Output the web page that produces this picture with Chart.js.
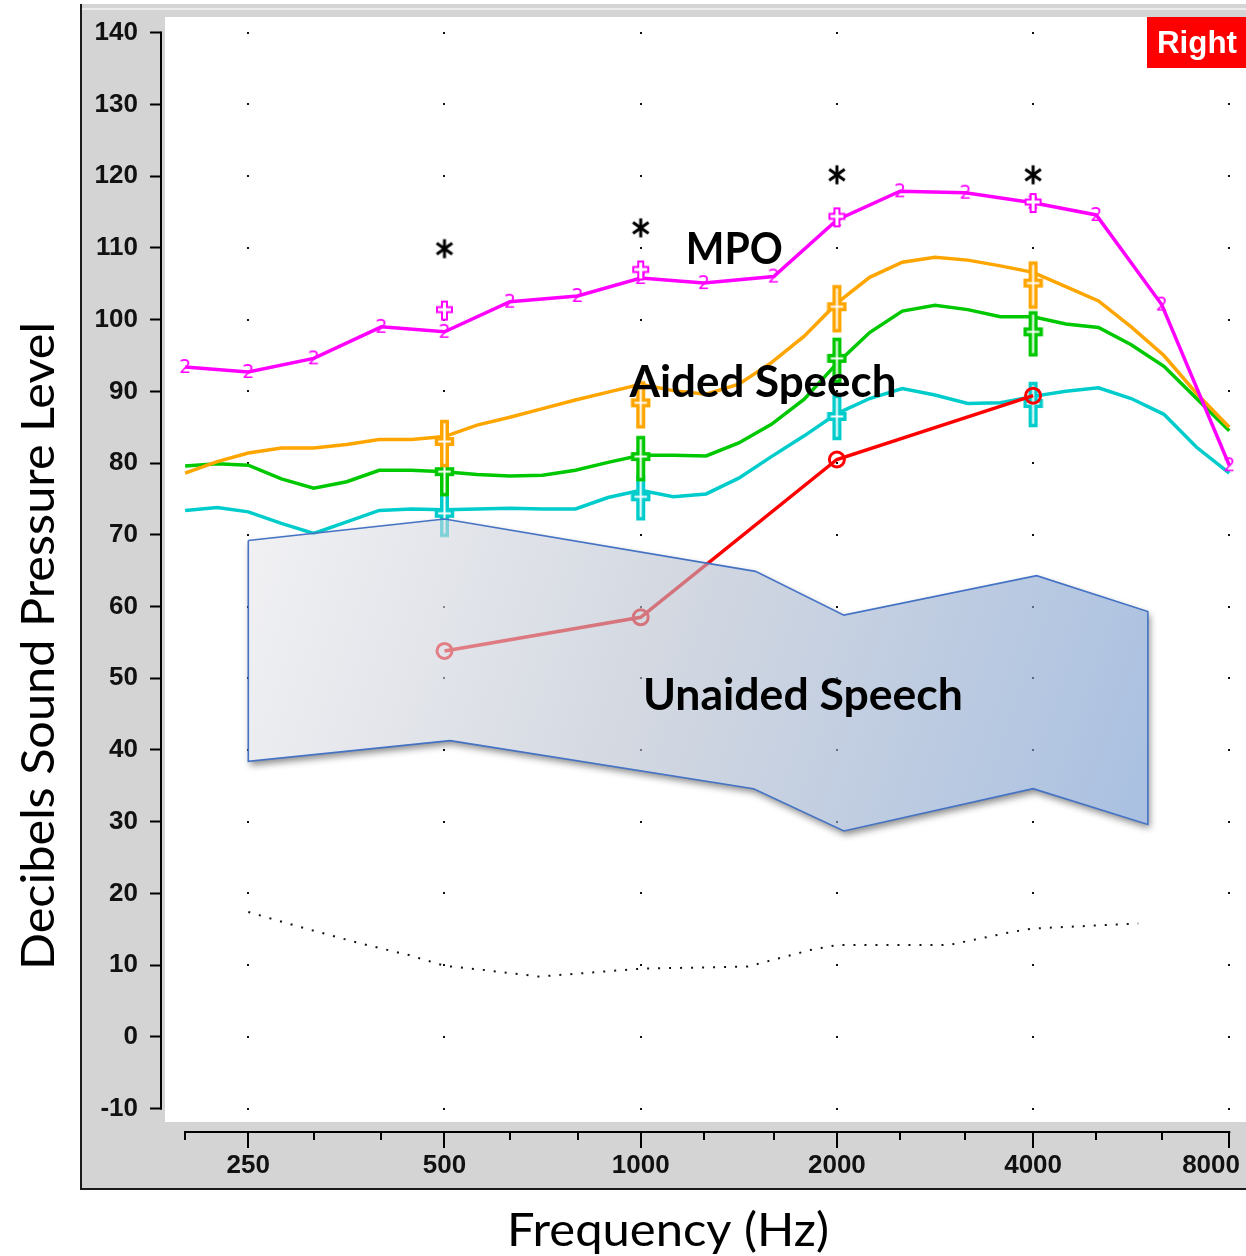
<!DOCTYPE html>
<html>
<head>
<meta charset="utf-8">
<title>Speech map</title>
<script src="https://cdn.jsdelivr.net/npm/chart.js@4.4.1/dist/chart.umd.min.js"></script>
<style>
  html, body { margin: 0; padding: 0; background: #fff; overflow: hidden; }
  canvas { display: block; }
</style>
</head>
<body>
<canvas id="chart" width="1246" height="1256"></canvas>
<script>
// measured aided curves, 1/6 octave steps (Hz / dB SPL)
var freqs = [200, 224, 250, 281, 315, 354, 397, 445, 500, 561, 630, 707, 794, 891, 1000, 1122, 1260, 1414, 1587, 1782, 2000, 2245, 2520, 2828, 3175, 3564, 4000, 4490, 5040, 5657, 6350, 7127, 8000];
var aidedLoud = [78.6, 80.2, 81.4, 82.1, 82.1, 82.6, 83.3, 83.3, 83.7, 85.3, 86.4, 87.6, 88.8, 89.9, 91.0, 90.1, 89.6, 91.0, 94.0, 97.7, 102.3, 105.9, 108.0, 108.7, 108.3, 107.5, 106.6, 104.6, 102.6, 99.0, 95.0, 89.7, 85.0];
var aidedAvg = [79.6, 79.9, 79.7, 77.8, 76.5, 77.4, 79.0, 79.0, 78.8, 78.4, 78.2, 78.3, 79.0, 80.1, 81.1, 81.1, 81.0, 82.8, 85.4, 88.9, 93.9, 98.2, 101.2, 102.0, 101.4, 100.4, 100.4, 99.4, 98.9, 96.5, 93.5, 89.0, 84.5];
var aidedSoft = [73.4, 73.8, 73.2, 71.6, 70.2, 71.8, 73.4, 73.6, 73.5, 73.6, 73.7, 73.6, 73.6, 75.2, 76.2, 75.3, 75.7, 77.9, 80.9, 83.8, 86.9, 89.0, 90.4, 89.5, 88.3, 88.4, 89.3, 90.0, 90.5, 89.0, 86.8, 82.2, 78.6];

// MPO, 1/3 octave
var mpoFreqs = [200, 250, 315, 400, 500, 630, 800, 1000, 1250, 1600, 2000, 2500, 3150, 4000, 5000, 6300, 8000];
var mpoLevels = [93.4, 92.7, 94.6, 99.0, 98.3, 102.5, 103.3, 105.8, 105.1, 106.0, 113.9, 117.9, 117.7, 116.3, 114.6, 102.1, 79.7];

// audiometric markers
var testFreqs = [500, 1000, 2000, 4000];
var thresholdLevels = [53.8, 58.5, 80.5, 89.4];
var uclLevels = [109.9, 112.8, 120.2, 120.2];
var mpoTargets = [101.4, 107.0, 114.4, 116.4];
var loudTargets = [83.0, 88.4, 101.8, 105.1];
var avgTargets = [78.8, 80.9, 94.6, 98.3];
var softTargets = [73.0, 75.3, 86.5, 88.3];

// normal hearing threshold (dotted)
var normalFreqs = [250, 298, 372, 441, 500, 577, 698, 1000, 1460, 1820, 2000, 2970, 3700, 4000, 5800];
var normalLevels = [17.4, 15.4, 13.0, 11.4, 9.9, 9.3, 8.4, 9.5, 9.8, 12.1, 12.8, 12.8, 14.6, 15.1, 15.8];

// unaided speech area: upper edge left to right, lower edge right to left
var bananaFreqs = [250, 500, 1500, 2050, 4050, 6000, 6000, 4000, 2050, 1490, 510, 250, 250];
var bananaLevels = [69.2, 72.2, 64.9, 58.8, 64.3, 59.3, 29.6, 34.6, 28.7, 34.6, 41.3, 38.4, 69.2];

var freqTicks = [250, 500, 1000, 2000, 4000, 8000];
var rulerFreqs = [200, 250, 315, 400, 500, 630, 800, 1000, 1250, 1600, 2000, 2500, 3150, 4000, 5000, 6300, 8000];
var dbTicks = [-10, 0, 10, 20, 30, 40, 50, 60, 70, 80, 90, 100, 110, 120, 130, 140];

var MAGENTA = '#ff00ff', ORANGE = '#ffa500', GREEN = '#00c800', CYAN = '#00cccc', RED = '#ff0000';
var TICK_FONT = 'bold 26px "Liberation Sans", Arial, sans-serif';

function pts(xs, ys) {
  return xs.map(function (x, i) { return { x: x, y: ys[i] }; });
}

// hollow cross marker
function crossImage(color, h, armY, armW, barW, lw) {
  var c = document.createElement('canvas');
  var half = Math.max(armY, h - armY);
  c.width = armW + lw + 2;
  c.height = 2 * half + lw + 2;
  var g = c.getContext('2d');
  var cx = c.width / 2, ay = c.height / 2, top = ay - armY;
  var b = barW / 2, a = armW / 2;
  g.beginPath();
  g.moveTo(cx - b, top);
  g.lineTo(cx + b, top);
  g.lineTo(cx + b, ay - b);
  g.lineTo(cx + a, ay - b);
  g.lineTo(cx + a, ay + b);
  g.lineTo(cx + b, ay + b);
  g.lineTo(cx + b, top + h);
  g.lineTo(cx - b, top + h);
  g.lineTo(cx - b, ay + b);
  g.lineTo(cx - a, ay + b);
  g.lineTo(cx - a, ay - b);
  g.lineTo(cx - b, ay - b);
  g.closePath();
  g.fillStyle = '#fff';
  g.fill();
  g.strokeStyle = color;
  g.lineWidth = lw;
  g.stroke();
  return c;
}

function digitImage(text, color) {
  var c = document.createElement('canvas');
  c.width = 16; c.height = 20;
  var g = c.getContext('2d');
  g.font = '19px "DejaVu Sans", sans-serif';
  g.textAlign = 'center';
  g.textBaseline = 'middle';
  g.fillStyle = color;
  g.fillText(text, 8, 11);
  return c;
}

function asteriskImage() {
  var c = document.createElement('canvas');
  c.width = 24; c.height = 24;
  var g = c.getContext('2d');
  g.strokeStyle = '#000';
  g.lineWidth = 3;
  [90, 35, 145].forEach(function (deg) {
    var r = deg * Math.PI / 180;
    g.beginPath();
    g.moveTo(12 - 9.5 * Math.cos(r), 12 - 9.5 * Math.sin(r));
    g.lineTo(12 + 9.5 * Math.cos(r), 12 + 9.5 * Math.sin(r));
    g.stroke();
  });
  return c;
}

function scaledText(ctx, text, font, x, y, width, align, rot) {
  ctx.save();
  ctx.font = font;
  var sx = width / ctx.measureText(text).width;
  ctx.translate(x, y);
  if (rot) ctx.rotate(rot);
  ctx.scale(sx, 1);
  ctx.textAlign = align;
  ctx.textBaseline = 'alphabetic';
  ctx.fillText(text, 0, 0);
  ctx.restore();
}

function markerSet(label, levels, img, order) {
  return { label: label, data: pts(testFreqs, levels), showLine: false, pointStyle: img, pointRadius: 6, order: order };
}

// lower order is drawn on top
var datasets = [
  markerSet('UCL', uclLevels, asteriskImage(), 1),
  { label: 'Unaided speech', data: pts(bananaFreqs, bananaLevels), borderColor: '#4472c4', borderWidth: 1.6, fill: false, pointRadius: 0, order: 2 },
  { label: 'Threshold', data: pts(testFreqs, thresholdLevels), borderColor: RED, borderWidth: 3.5, pointStyle: 'circle', pointRadius: 7.5, pointBorderWidth: 3, pointBackgroundColor: 'rgba(0,0,0,0)', order: 3 },
  markerSet('MPO target', mpoTargets, crossImage(MAGENTA, 18, 8, 15, 5, 2), 4),
  markerSet('Loud target', loudTargets, crossImage(ORANGE, 44, 20, 16, 5.5, 3.5), 4),
  markerSet('Average target', avgTargets, crossImage(GREEN, 42, 19, 16, 5.5, 3.5), 4),
  markerSet('Soft target', softTargets, crossImage(CYAN, 42, 20, 16, 5.5, 3.5), 4),
  { label: 'MPO', data: pts(mpoFreqs, mpoLevels), borderColor: MAGENTA, borderWidth: 3.5, pointStyle: digitImage('2', MAGENTA), pointRadius: 6, order: 5 },
  { label: 'Aided loud', data: pts(freqs, aidedLoud), borderColor: ORANGE, borderWidth: 3.5, pointRadius: 0, order: 6 },
  { label: 'Aided average', data: pts(freqs, aidedAvg), borderColor: GREEN, borderWidth: 3.5, pointRadius: 0, order: 7 },
  { label: 'Aided soft', data: pts(freqs, aidedSoft), borderColor: CYAN, borderWidth: 3.5, pointRadius: 0, order: 8 },
  { label: 'Normal hearing', data: pts(normalFreqs, normalLevels), borderColor: '#111', borderWidth: 2, borderDash: [2, 9], pointRadius: 0, order: 9 }
];

var decor = {
  id: 'decor',
  beforeDraw: function (c) {
    var ctx = c.ctx, a = c.chartArea;
    ctx.save();
    ctx.fillStyle = '#fff';
    ctx.fillRect(0, 0, c.width, c.height);
    ctx.fillStyle = '#d4d4d4';
    ctx.fillRect(80, 4, c.width - 80, 1186);
    ctx.fillStyle = '#ececec';
    ctx.fillRect(80, 8, c.width - 80, 2);
    ctx.fillStyle = '#fff';
    ctx.fillRect(a.left + 3, a.top, a.right - a.left - 3, a.bottom - a.top + 2);
    ctx.fillStyle = '#1a1a1a';
    ctx.fillRect(80, 4, 2, 1186);
    ctx.fillRect(80, 1188, c.width - 80, 2);
    ctx.restore();
  },
  beforeDatasetsDraw: function (c) {
    var ctx = c.ctx, xs = c.scales.x, ys = c.scales.y;
    ctx.save();
    ctx.fillStyle = '#111';
    freqTicks.forEach(function (f) {
      var x = Math.round(xs.getPixelForValue(f));
      dbTicks.forEach(function (v) {
        ctx.fillRect(x - 1, Math.round(ys.getPixelForValue(v)) - 1, 2, 2);
      });
    });
    ctx.restore();
  },
  beforeDatasetDraw: function (c, args) {
    if (c.data.datasets[args.index].label !== 'Unaided speech') return;
    var ctx = c.ctx, xs = c.scales.x, ys = c.scales.y;
    var p = args.meta.data;
    function outline() {
      p.forEach(function (e, i) {
        if (i === 0) ctx.moveTo(e.x, e.y); else ctx.lineTo(e.x, e.y);
      });
      ctx.closePath();
    }
    // drop shadow, kept outside the shape
    ctx.save();
    ctx.beginPath();
    ctx.rect(0, 0, c.width, c.height);
    outline();
    ctx.clip('evenodd');
    ctx.beginPath();
    outline();
    ctx.shadowColor = 'rgba(0,0,0,0.45)';
    ctx.shadowBlur = 7;
    ctx.shadowOffsetX = 2;
    ctx.shadowOffsetY = 4;
    ctx.fillStyle = '#fff';
    ctx.fill();
    ctx.restore();
    // translucent gradient fill
    ctx.save();
    var g = ctx.createLinearGradient(xs.getPixelForValue(250), ys.getPixelForValue(72),
                                     xs.getPixelForValue(6000), ys.getPixelForValue(29));
    g.addColorStop(0, 'rgba(232,232,236,0.6)');
    g.addColorStop(0.45, 'rgba(182,190,205,0.6)');
    g.addColorStop(1, 'rgba(112,150,205,0.6)');
    ctx.beginPath();
    outline();
    ctx.fillStyle = g;
    ctx.fill();
    ctx.restore();
  },
  afterDraw: function (c) {
    var ctx = c.ctx, xs = c.scales.x, ys = c.scales.y, a = c.chartArea;
    ctx.save();
    ctx.fillStyle = '#000';
    // y axis line, 140 down to -10
    var yTop = ys.getPixelForValue(140), yBot = ys.getPixelForValue(-10);
    ctx.fillRect(a.left - 2, yTop - 1, 2, yBot - yTop + 2);
    // frequency ruler
    var rulerY = 1131;
    var x0 = xs.getPixelForValue(rulerFreqs[0]);
    var x1 = xs.getPixelForValue(rulerFreqs[rulerFreqs.length - 1]);
    ctx.fillRect(x0 - 1, rulerY, x1 - x0 + 2, 2);
    rulerFreqs.forEach(function (f) {
      var x = Math.round(xs.getPixelForValue(f));
      ctx.fillRect(x - 1, rulerY, 2, freqTicks.indexOf(f) >= 0 ? 17 : 9);
    });
    ctx.font = TICK_FONT;
    ctx.fillStyle = '#111';
    ctx.textAlign = 'center';
    ctx.textBaseline = 'middle';
    freqTicks.forEach(function (f) {
      var s = String(f);
      var w = ctx.measureText(s).width;
      var x = Math.min(xs.getPixelForValue(f), c.width - 6 - w / 2);
      ctx.fillText(s, x, 1166);
    });
    // axis titles
    ctx.fillStyle = '#000';
    scaledText(ctx, 'Frequency (Hz)', '46px Lato, sans-serif', 668, 1246, 322, 'center', 0);
    scaledText(ctx, 'Decibels Sound Pressure Level', '46px Lato, sans-serif', 54, 646, 648, 'center', -Math.PI / 2);
    // curve labels: text, freq, dB of baseline start, width
    [['MPO', 1173, 107.8, 97], ['Aided Speech', 961, 89.2, 267], ['Unaided Speech', 1008, 45.5, 320]].forEach(function (t) {
      scaledText(ctx, t[0], 'bold 44px Lato, sans-serif', xs.getPixelForValue(t[1]), ys.getPixelForValue(t[2]), t[3], 'left', 0);
    });
    // ear tag
    ctx.fillStyle = RED;
    ctx.fillRect(1147, 17, c.width - 1147, 51);
    ctx.fillStyle = '#fff';
    scaledText(ctx, 'Right', 'bold 32px "Liberation Sans", Arial, sans-serif', 1197, 53, 80, 'center', 0);
    ctx.restore();
  }
};

var chart = new Chart(document.getElementById('chart'), {
  type: 'line',
  data: { datasets: datasets },
  options: {
    responsive: false,
    animation: false,
    events: [],
    layout: { autoPadding: false, padding: { left: 0, right: 0, top: 17, bottom: 136 } },
    plugins: { legend: { display: false }, tooltip: { enabled: false } },
    scales: {
      x: { type: 'logarithmic', min: 184.3, max: 8486.6, display: false },
      y: {
        type: 'linear',
        min: -11.6,
        max: 142.2,
        afterBuildTicks: function (s) {
          s.ticks = dbTicks.map(function (v) { return { value: v }; });
        },
        afterFit: function (s) {
          s.width = 162;
          s.paddingTop = 0;
          s.paddingBottom = 0;
        },
        border: { display: false },
        grid: { drawOnChartArea: false, tickLength: 12, tickWidth: 2, tickColor: '#000' },
        ticks: { font: { family: '"Liberation Sans", Arial, sans-serif', size: 26, weight: 'bold' }, color: '#111', padding: 12 }
      }
    }
  },
  plugins: [decor]
});
</script>
</body>
</html>
